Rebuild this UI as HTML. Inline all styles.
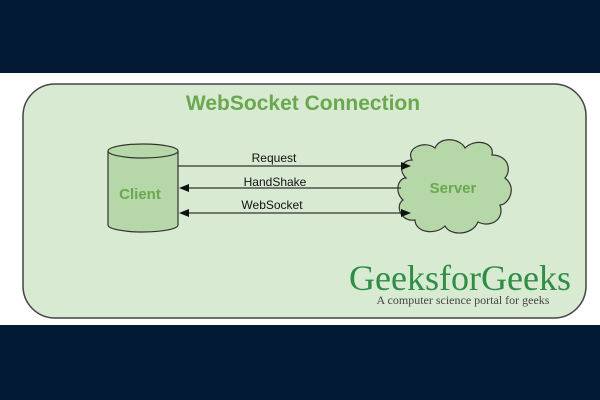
<!DOCTYPE html>
<html><head><style>
html,body{margin:0;padding:0;width:600px;height:400px;overflow:hidden;background:#fff}
</style></head><body>
<svg width="600" height="400" xmlns="http://www.w3.org/2000/svg">
<rect x="0" y="0" width="600" height="73" fill="#021a33"/>
<rect x="0" y="325" width="600" height="75" fill="#021a33"/>
<rect x="23" y="84" width="563" height="234" rx="32" fill="#d9ead3" stroke="#444" stroke-width="1.5"/>
<text x="303" y="110" text-anchor="middle" font-family="Liberation Sans, sans-serif" font-weight="bold" font-size="21" fill="#6aa84f">WebSocket Connection</text>
<path d="M108,151 L108,225 A35,7 0 0 0 178,225 L178,151" fill="#b6d7a8" stroke="#333" stroke-width="1.2"/>
<ellipse cx="143" cy="151" rx="35" ry="7" fill="#b6d7a8" stroke="#333" stroke-width="1.2"/>
<text x="140" y="199" text-anchor="middle" font-family="Liberation Sans, sans-serif" font-weight="bold" font-size="15" fill="#6aa84f">Client</text>
<path d="M412,160 C405,148 425,140 435,148 C440,136 460,138 465,148 C475,138 495,142 492,155 C508,155 512,170 505,178 C518,188 508,205 500,205 C505,220 490,228 478,222 C472,236 450,236 445,226 C435,236 415,232 415,220 C400,222 395,205 403,200 C394,192 398,178 406,178 C398,170 402,160 412,160 Z" fill="#b6d7a8" stroke="#333" stroke-width="1.2"/>
<text x="453" y="193" text-anchor="middle" font-family="Liberation Sans, sans-serif" font-weight="bold" font-size="15" fill="#6aa84f">Server</text>
<g stroke="#333" stroke-width="1.3">
<line x1="178" y1="166" x2="402" y2="166"/>
<line x1="188" y1="188" x2="401" y2="188"/>
<line x1="188" y1="213" x2="402" y2="213"/>
</g>
<g fill="#111">
<polygon points="411,166 401,162 401,170"/>
<polygon points="179,188 189,184 189,192"/>
<polygon points="179,213 189,209 189,217"/>
<polygon points="411,213 401,209 401,217"/>
</g>
<g font-family="Liberation Sans, sans-serif" font-size="12" fill="#111" text-anchor="middle">
<text x="274" y="162">Request</text>
<text x="275" y="186">HandShake</text>
<text x="272" y="209">WebSocket</text>
</g>
<text x="460" y="290" text-anchor="middle" font-family="Liberation Serif, serif" font-size="36" fill="#2f8d46">GeeksforGeeks</text>
<text x="463" y="304" text-anchor="middle" font-family="Liberation Serif, serif" font-size="12" fill="#444">A computer science portal for geeks</text>
</svg>
</body></html>
